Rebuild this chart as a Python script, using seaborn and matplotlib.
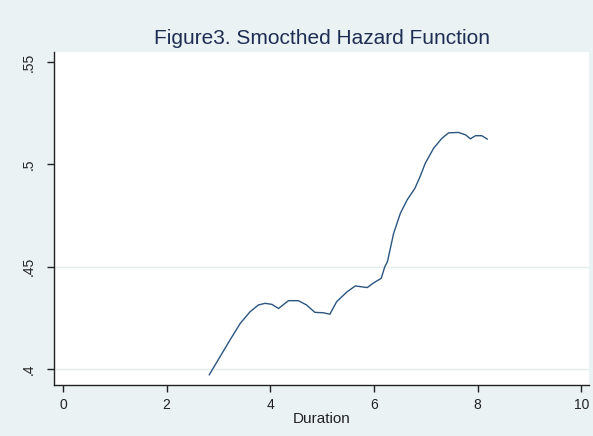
import matplotlib
matplotlib.use("Agg")
import matplotlib.pyplot as plt
import seaborn as sns
import pandas as pd

# Data (smoothed hazard estimate vs duration)
duration = [2.82, 3.03, 3.22, 3.42, 3.61, 3.77, 3.90, 4.03, 4.16, 4.35, 4.54,
            4.70, 4.86, 5.02, 5.15, 5.28, 5.48, 5.64, 5.87, 6.00, 6.14, 6.21,
            6.26, 6.38, 6.51, 6.64, 6.79, 6.89, 6.99, 7.15, 7.31, 7.44, 7.63,
            7.77, 7.86, 7.96, 8.08, 8.19]
hazard = [0.3971, 0.4060, 0.4141, 0.4223, 0.4280, 0.4313, 0.4321, 0.4316,
          0.4296, 0.4334, 0.4334, 0.4313, 0.4277, 0.4275, 0.4268, 0.4329,
          0.4377, 0.4406, 0.4398, 0.4422, 0.4443, 0.4500, 0.4524, 0.4663,
          0.4761, 0.4826, 0.4883, 0.4940, 0.5005, 0.5078, 0.5127, 0.5154,
          0.5156, 0.5144, 0.5125, 0.5140, 0.5140, 0.5123]
x_ticks = [0, 2, 4, 6, 8, 10]
y_ticks = [0.40, 0.45, 0.50, 0.55]
y_tick_labels = [".4", ".45", ".5", ".55"]
grid_levels = [0.40, 0.45]
title_text = "Figure3. Smocthed Hazard Function"
x_label = "Duration"

df = pd.DataFrame({"Duration": duration, "Hazard": hazard})

sns.set_theme(style="white")
plt.rcParams["font.family"] = ["Liberation Sans", "DejaVu Sans"]

bg = "#EAF2F3"
fig = plt.figure(figsize=(5.93, 4.36), dpi=100, facecolor=bg)
ax = fig.add_axes([54 / 593, 1 - 385 / 436, (589 - 54) / 593, (385 - 52) / 436])
ax.set_facecolor("white")

for g in grid_levels:
    ax.axhline(g, color="#E4EDEE", lw=1.0, zorder=0)

sns.lineplot(data=df, x="Duration", y="Hazard", ax=ax, color="#2a5580",
             linewidth=1.0, legend=False)

ax.set_xlim(-0.174, 10.15)
ax.set_ylim(0.3922, 0.5549)
ax.set_xticks(x_ticks)
ax.set_xticklabels([str(t) for t in x_ticks])
ax.set_yticks(y_ticks)
ax.set_yticklabels(y_tick_labels, rotation=90, va="center")

for s in ["top", "right"]:
    ax.spines[s].set_visible(False)
for s in ["left", "bottom"]:
    ax.spines[s].set_color("#222222")
    ax.spines[s].set_linewidth(1.0)

ax.tick_params(axis="both", which="major", length=5, width=1, color="#222222",
               labelsize=10, labelcolor="#222222", direction="out")
ax.tick_params(axis="y", pad=8)
ax.tick_params(axis="x", pad=4)
ax.tick_params(left=True, bottom=True)

ax.set_xlabel(x_label, fontsize=11, color="#222222", labelpad=0)
ax.set_ylabel("")
ax.set_title(title_text, fontsize=15, color="#1e2d53", pad=6)

fig.savefig("out.png", dpi=100, facecolor=bg)
